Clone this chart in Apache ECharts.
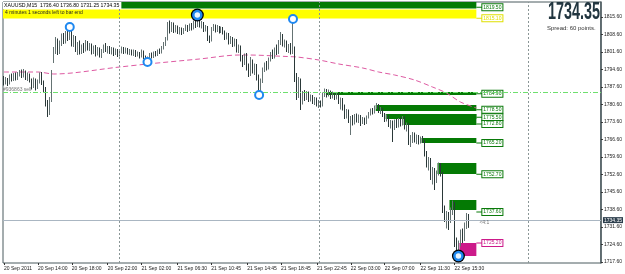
<!DOCTYPE html>
<html><head><meta charset="utf-8">
<script src="https://cdn.jsdelivr.net/npm/echarts@6/dist/echarts.min.js"></script>
<style>html,body{margin:0;padding:0;background:#fff}#c{width:625px;height:274px}</style>
</head><body><div id="c"></div>
<script>
const symbolInfo = 'XAUUSD,M15  1736.40 1736.80 1731.25 1734.35';
const timerText = '4 minutes 1 seconds left to bar end';
const bidPrice = 1734.35;
const spreadText = 'Spread: 60 points.';
const orderLevel = 1785.5;
const orderLabel = '#936863 sell';
const candleTimer = '<4:1';
const separators = [58, 158, 263];
const tickIdx = [0, 17, 34, 52, 69, 87, 104, 122, 139, 157, 174, 191, 209, 226];
const tickLabels = ['20 Sep 2011','20 Sep 14:00','20 Sep 18:00','20 Sep 22:00','21 Sep 02:00','21 Sep 06:30','21 Sep 10:45','21 Sep 14:45','21 Sep 18:45','21 Sep 22:45','22 Sep 03:00','22 Sep 07:00','22 Sep 11:30','22 Sep 15:30'];
const priceTicks = [1717.6,1724.6,1731.6,1738.6,1745.6,1752.6,1759.6,1766.6,1773.6,1780.6,1787.6,1794.6,1801.6,1808.6,1815.6];
// [open, close, low, high]
const ohlc = [
[1791.0,1789.5,1788.2,1792.0],[1789.5,1790.8,1788.6,1791.6],[1790.8,1789.0,1788.0,1791.2],[1789.0,1791.8,1788.6,1792.6],
[1791.8,1790.6,1789.8,1793.0],[1790.6,1792.4,1790.0,1793.2],[1792.4,1791.0,1790.2,1793.4],[1791.0,1792.8,1790.4,1793.6],
[1792.8,1793.6,1791.8,1794.4],[1793.6,1792.0,1791.2,1794.6],[1792.0,1793.8,1791.4,1794.8],[1793.8,1791.2,1790.4,1794.2],
[1791.2,1792.6,1790.0,1793.4],[1792.6,1790.2,1789.4,1793.0],[1790.2,1788.0,1786.6,1791.0],[1788.0,1790.4,1787.2,1791.4],
[1790.4,1787.4,1786.2,1791.0],[1787.4,1789.8,1786.8,1790.6],[1789.8,1792.6,1789.0,1793.4],[1792.6,1789.2,1788.4,1793.6],
[1789.2,1786.8,1785.6,1790.2],[1786.8,1781.0,1779.8,1787.6],[1781.0,1777.4,1775.6,1782.4],[1777.4,1782.2,1776.4,1783.6],
[1782.2,1792.6,1781.6,1794.4],[1797.6,1802.4,1797.2,1803.6],[1802.4,1806.0,1800.8,1807.6],[1806.0,1801.8,1800.4,1807.0],
[1801.8,1805.0,1800.8,1806.2],[1805.0,1808.2,1804.0,1809.0],[1808.2,1805.6,1804.8,1809.2],[1805.6,1808.8,1805.0,1810.0],
[1808.8,1807.0,1806.0,1810.4],[1807.0,1810.2,1806.4,1811.6],[1810.2,1805.0,1803.8,1810.8],[1805.0,1807.4,1803.6,1808.4],
[1807.4,1802.6,1801.6,1808.0],[1802.6,1804.8,1800.4,1805.6],[1804.8,1801.4,1800.6,1806.2],[1801.4,1803.8,1800.8,1804.6],
[1803.8,1802.2,1801.2,1805.2],[1802.2,1805.4,1801.8,1806.4],[1805.4,1803.0,1802.2,1806.0],[1803.0,1804.4,1802.0,1805.2],
[1804.4,1801.8,1800.6,1805.0],[1801.8,1803.6,1800.8,1804.2],[1803.6,1801.0,1799.8,1804.4],[1801.0,1802.8,1800.2,1803.6],
[1802.8,1800.4,1799.4,1803.4],[1800.4,1802.0,1799.2,1802.8],[1802.0,1803.8,1801.2,1804.6],[1803.8,1802.4,1801.6,1805.2],
[1802.4,1803.2,1801.0,1804.0],[1803.2,1801.6,1800.8,1804.0],[1801.6,1802.8,1800.6,1803.6],[1802.8,1801.2,1800.0,1803.4],
[1801.2,1802.2,1800.4,1803.0],[1802.2,1800.6,1799.6,1802.8],[1800.6,1801.8,1799.8,1802.6],[1801.8,1803.0,1801.0,1803.8],
[1803.0,1801.6,1800.8,1803.6],[1801.6,1802.8,1801.0,1803.4],[1802.8,1801.4,1800.6,1803.2],[1801.4,1802.2,1800.4,1802.8],
[1802.2,1801.0,1800.2,1802.6],[1801.0,1801.8,1800.0,1802.6],[1801.8,1800.4,1799.6,1802.4],[1800.4,1801.2,1799.8,1801.8],
[1801.2,1799.8,1799.0,1801.6],[1799.8,1801.4,1799.4,1802.6],[1801.4,1799.6,1798.8,1802.2],[1799.6,1798.6,1797.8,1800.2],
[1798.6,1799.0,1797.6,1799.8],[1799.0,1800.6,1798.4,1801.2],[1800.6,1799.6,1799.0,1801.4],[1799.6,1801.2,1799.2,1801.8],
[1801.2,1800.4,1799.8,1802.0],[1800.4,1802.0,1800.0,1802.6],[1802.0,1801.4,1800.8,1803.0],[1801.4,1803.2,1801.0,1804.0],
[1803.2,1804.6,1802.6,1805.6],[1804.6,1806.8,1804.0,1807.6],[1806.8,1812.6,1806.2,1813.6],[1812.6,1810.4,1809.0,1814.2],
[1810.4,1812.8,1809.6,1813.6],[1812.8,1810.0,1809.2,1813.4],[1810.0,1811.8,1809.4,1812.4],[1811.8,1809.6,1808.8,1812.2],
[1809.6,1810.8,1808.6,1811.6],[1810.8,1809.2,1808.4,1811.4],[1809.2,1810.6,1808.8,1811.2],[1810.6,1811.8,1810.0,1812.6],
[1811.8,1810.4,1809.6,1812.4],[1810.4,1812.2,1810.0,1813.0],[1812.2,1811.0,1810.2,1813.2],[1811.0,1813.4,1810.6,1814.2],
[1813.4,1812.0,1811.2,1815.0],[1812.0,1814.6,1811.6,1816.4],[1814.6,1812.4,1811.4,1815.2],[1812.4,1813.0,1811.0,1814.0],
[1813.0,1810.4,1809.6,1813.6],[1810.4,1811.6,1809.8,1812.4],[1811.6,1807.0,1806.0,1812.0],[1807.0,1806.2,1805.2,1808.2],
[1806.2,1810.8,1805.8,1811.6],[1810.8,1812.2,1810.0,1812.8],[1812.2,1810.2,1809.4,1812.6],[1810.2,1811.6,1809.6,1812.4],
[1811.6,1809.8,1809.0,1812.0],[1809.8,1811.2,1809.2,1811.8],[1811.2,1809.4,1808.6,1811.6],[1809.4,1807.2,1806.4,1810.2],
[1807.2,1808.6,1806.6,1809.4],[1808.6,1805.4,1804.6,1809.2],[1805.4,1807.0,1804.8,1808.0],[1807.0,1804.4,1803.6,1807.6],
[1804.4,1806.2,1803.8,1807.0],[1806.2,1802.8,1801.4,1806.8],[1802.8,1803.8,1801.2,1804.6],[1803.8,1799.0,1797.8,1804.2],
[1799.0,1797.2,1795.6,1800.4],[1797.2,1800.2,1796.4,1801.0],[1800.2,1795.4,1794.2,1801.2],[1795.4,1792.8,1791.6,1797.0],
[1792.8,1797.8,1792.0,1799.6],[1797.8,1794.0,1793.0,1798.6],[1794.0,1796.2,1792.4,1797.0],[1796.2,1791.2,1790.2,1796.8],
[1791.2,1786.4,1784.4,1792.6],[1786.4,1789.8,1785.8,1791.0],[1789.8,1794.6,1789.2,1795.4],[1794.6,1796.4,1793.6,1797.4],
[1796.4,1795.0,1794.2,1798.0],[1795.0,1798.6,1794.6,1799.4],[1798.6,1800.8,1797.8,1801.6],[1800.8,1799.6,1798.8,1802.6],
[1799.6,1802.4,1799.0,1803.4],[1802.4,1801.2,1800.4,1804.6],[1801.2,1805.2,1800.8,1806.4],[1805.2,1807.8,1804.4,1809.6],
[1807.8,1804.6,1803.8,1808.8],[1804.6,1805.8,1803.4,1806.6],[1805.8,1802.4,1801.6,1806.2],[1802.4,1804.0,1801.2,1804.8],
[1804.0,1801.8,1800.6,1805.2],[1801.8,1803.4,1800.8,1814.8],[1803.4,1791.0,1789.6,1803.8],[1791.0,1784.6,1782.4,1793.2],
[1784.6,1789.8,1783.2,1791.6],[1789.8,1781.2,1778.4,1791.0],[1781.2,1784.8,1780.6,1786.0],[1784.8,1783.0,1782.0,1786.4],
[1783.0,1785.2,1782.4,1786.0],[1785.2,1782.6,1781.6,1785.8],[1782.6,1783.8,1781.8,1784.6],[1783.8,1781.6,1780.8,1784.4],
[1781.6,1782.8,1780.4,1783.6],[1782.8,1780.6,1779.8,1783.4],[1780.6,1781.8,1779.2,1782.4],[1781.8,1780.2,1779.4,1782.2],
[1780.2,1784.6,1779.8,1785.4],[1784.6,1786.0,1783.6,1787.0],[1786.0,1784.4,1783.4,1786.8],[1784.4,1785.6,1783.8,1786.6],
[1785.6,1783.6,1782.8,1786.2],[1783.6,1785.0,1783.0,1785.8],[1785.0,1783.2,1782.4,1785.6],[1783.2,1784.8,1782.6,1785.6],
[1784.8,1781.6,1780.8,1785.4],[1781.6,1782.8,1778.6,1783.4],[1782.8,1779.4,1778.2,1783.2],[1779.4,1776.0,1774.8,1780.6],
[1776.0,1777.8,1775.0,1778.8],[1777.8,1774.4,1773.2,1778.6],[1774.4,1775.2,1768.4,1776.0],[1775.2,1773.0,1772.2,1776.4],
[1773.0,1776.0,1772.6,1776.8],[1776.0,1774.2,1773.4,1777.0],[1774.2,1775.8,1773.2,1776.6],[1775.8,1773.6,1772.0,1776.4],
[1773.6,1774.8,1772.8,1775.6],[1774.8,1773.2,1772.4,1775.4],[1773.2,1775.6,1772.8,1776.2],[1775.6,1776.8,1775.0,1777.6],
[1776.8,1778.2,1776.2,1779.0],[1778.2,1777.4,1776.6,1779.2],[1777.4,1779.6,1777.0,1780.2],[1779.6,1780.4,1778.8,1781.2],
[1780.4,1778.0,1777.2,1780.8],[1778.0,1778.8,1776.8,1779.6],[1778.8,1776.4,1775.6,1779.2],[1776.4,1774.6,1773.6,1777.2],
[1774.6,1775.8,1773.8,1776.6],[1775.8,1772.4,1771.6,1776.2],[1772.4,1773.6,1771.0,1774.4],[1773.6,1771.0,1765.6,1774.2],
[1771.0,1773.8,1770.4,1774.6],[1773.8,1772.0,1771.2,1774.8],[1772.0,1774.4,1771.4,1775.2],[1774.4,1772.8,1771.8,1775.6],
[1772.8,1775.2,1772.2,1776.0],[1775.2,1771.4,1770.6,1775.8],[1771.4,1772.6,1769.8,1773.4],[1772.6,1765.8,1764.4,1773.2],
[1765.8,1767.0,1763.6,1768.4],[1767.0,1768.8,1765.2,1769.6],[1768.8,1766.4,1765.4,1769.4],[1766.4,1767.8,1764.8,1768.6],
[1767.8,1765.6,1764.6,1768.4],[1765.6,1767.4,1765.0,1767.8],[1767.4,1766.0,1765.2,1768.0],[1766.0,1760.8,1759.8,1766.6],
[1760.8,1756.8,1755.4,1762.0],[1756.8,1758.6,1754.2,1759.6],[1758.6,1752.4,1750.4,1759.2],[1752.4,1754.6,1748.6,1755.6],
[1754.6,1750.2,1746.4,1755.2],[1750.2,1753.4,1749.2,1754.2],[1753.4,1756.8,1752.2,1757.4],[1756.8,1753.0,1751.8,1757.2],
[1753.0,1739.0,1737.2,1753.6],[1739.0,1735.2,1733.6,1740.2],[1735.2,1736.8,1731.0,1738.0],[1736.8,1734.0,1730.4,1737.6],
[1734.0,1738.6,1733.2,1739.4],[1738.6,1740.8,1736.4,1742.2],[1740.8,1725.0,1723.6,1741.6],[1725.0,1721.6,1720.6,1727.4],
[1721.6,1724.8,1720.0,1726.2],[1724.8,1728.4,1723.8,1730.6],[1728.4,1726.6,1725.2,1731.0],[1726.6,1731.8,1726.0,1733.4],
[1731.8,1736.4,1730.8,1737.2],[1736.4,1734.35,1731.25,1736.8]
];
const maIdx = [0, 17, 25, 58, 72, 98, 118, 122, 142, 147, 158, 168, 180, 188, 196, 206, 215, 222, 229, 237];
const maVal = [1793.6, 1793.6, 1792.8, 1795.6, 1796.8, 1798.8, 1800.4, 1800.4, 1799.8, 1799.6, 1798.4, 1796.8, 1795.2, 1793.6, 1792.4, 1790.4, 1787.6, 1785.2, 1781.6, 1779.2];
const pivotIdx = [33, 72, 128, 145];
const pivotVal = [1811.6, 1797.6, 1784.4, 1814.8];
const bigPivotIdx = [97, 228];
const bigPivotVal = [1816.4, 1720.0];
const zoneStart = [0, 0, 162, 187, 192, 201, 210, 218, 224, 229];
const zoneEnd   = [237, 237, 237, 237, 237, 237, 237, 237, 237, 237];
const zoneHigh  = [1821.6, 1818.6, 1785.6, 1780.4, 1776.8, 1776.8, 1767.2, 1757.2, 1742.4, 1725.2];
const zoneLow   = [1819.0, 1815.0, 1784.4, 1778.0, 1774.8, 1772.4, 1765.2, 1752.8, 1738.4, 1720.0];
const zoneLabel = ['1819.50', '1815.10', '1784.90', '1778.50', '1775.50', '1772.80', '1765.20', '1752.70', '1737.60', '1725.20'];
const zoneKind  = ['supply', 'yellow', 'supply', 'supply', 'supply', 'supply', 'supply', 'supply', 'supply', 'demand'];

const zoneColors = {supply: '#047a04', yellow: '#ffff00', demand: '#cc1a8a'};
const zoneTextColors = {supply: '#0a7a0a', yellow: '#e0e000', demand: '#cc1a8a'};
const FONT = 'Liberation Sans';
const categories = Array.from({length: 300}, (_, i) => String(i));
const showTick = (idx) => tickIdx.indexOf(idx) >= 0;

const chart = echarts.init(document.getElementById('c'), null, {renderer: 'canvas'});

function renderZone(params, api) {
  const k = params.dataIndex;
  const p0 = api.coord([api.value(0), api.value(2)]);
  const p1 = api.coord([api.value(1), api.value(3)]);
  const bw = api.size([1, 0])[0];
  const x0 = p0[0] - bw / 2, x1 = p1[0];
  const col = zoneColors[zoneKind[k]];
  const tcol = zoneTextColors[zoneKind[k]];
  const ly = api.coord([0, api.value(4)])[1];
  const lx = api.coord([api.value(1) + 3, 0])[0];
  return {type: 'group', children: [
    {type: 'rect', shape: {x: x0, y: p0[1], width: x1 - x0, height: p1[1] - p0[1]}, style: {fill: col}},
    {type: 'line', shape: {x1: x1, y1: ly, x2: lx, y2: ly}, style: {stroke: tcol, lineWidth: 1}},
    {type: 'text', x: lx, y: ly, style: {text: zoneLabel[k], fontSize: 5, fontFamily: FONT, fill: tcol,
      backgroundColor: '#fff', borderColor: tcol, borderWidth: 1, padding: [1, 1, 0, 1],
      verticalAlign: 'middle', align: 'left'}}
  ]};
}

const option = {
  animation: false,
  backgroundColor: '#fff',
  grid: {left: 3, right: 22, top: 2, bottom: 11, show: true, borderColor: '#4b5a5e', borderWidth: 1},
  xAxis: {
    type: 'category', data: categories, boundaryGap: true,
    axisLine: {show: false},
    axisTick: {show: true, alignWithLabel: true, interval: showTick, length: 2, lineStyle: {color: '#333'}},
    axisLabel: {interval: showTick, formatter: (v, i) => tickLabels[tickIdx.indexOf(i)], fontSize: 5,
      fontFamily: FONT, color: '#222', align: 'left', margin: 3},
    splitLine: {show: false}
  },
  yAxis: {
    type: 'value', position: 'right', min: 1717.2, max: 1821.6,
    splitLine: {show: false},
    axisLine: {show: true, lineStyle: {color: '#4b5a5e', width: 1.5}},
    axisTick: {show: true, length: 2, customValues: priceTicks, lineStyle: {color: '#333'}},
    axisLabel: {customValues: priceTicks, formatter: v => v.toFixed(2), fontSize: 5, fontFamily: FONT, color: '#222', margin: 3}
  },
  series: [
    {
      type: 'custom', name: 'zones', z: 1, clip: false,
      encode: {x: [0, 1], y: [2, 3, 4]},
      data: zoneStart.map((s, k) => [s, zoneEnd[k], zoneHigh[k], zoneLow[k], parseFloat(zoneLabel[k])]),
      renderItem: renderZone
    },
    {
      type: 'line', name: 'MA', z: 2, smooth: 0.3, symbol: 'none',
      data: maIdx.map((i, k) => [i, maVal[k]]),
      lineStyle: {color: '#de5aa2', width: 1, type: [5, 3]}
    },
    {
      type: 'candlestick', name: 'XAUUSD', z: 3, barWidth: 1.2,
      data: ohlc,
      itemStyle: {color: '#9aa7a7', color0: '#2a3838', borderColor: '#657373', borderColor0: '#2a3838', borderWidth: 1},
      markLine: {
        silent: true, symbol: 'none', animation: false,
        data: [
          {yAxis: bidPrice, lineStyle: {color: '#aab6c2', type: 'solid', width: 1},
            label: {show: true, position: 'end', distance: 2, formatter: bidPrice.toFixed(2), fontSize: 5, fontFamily: FONT,
              color: '#fff', backgroundColor: '#2c3e4c', padding: [1, 1, 0, 1]}},
          {yAxis: orderLevel, lineStyle: {color: '#6ee06e', type: [5, 2, 1, 2], width: 1},
            label: {show: true, position: 'insideStartTop', distance: 0, formatter: orderLabel, fontSize: 5, fontFamily: FONT, color: '#777'}},
          ...separators.map(s => ({xAxis: s, lineStyle: {color: '#8a9696', type: [2, 2], width: 1}, label: {show: false}}))
        ]
      }
    },
    {
      type: 'scatter', name: 'pivots', z: 5, symbol: 'circle', symbolSize: 8,
      data: pivotIdx.map((i, k) => [i, pivotVal[k]]),
      itemStyle: {color: '#fff', borderColor: '#1e88f0', borderWidth: 2, opacity: 1}
    },
    {
      type: 'scatter', name: 'bigPivotsOuter', z: 5, symbol: 'circle', symbolSize: 13,
      data: bigPivotIdx.map((i, k) => [i, bigPivotVal[k]]),
      itemStyle: {color: '#000', opacity: 1}
    },
    {
      type: 'scatter', name: 'bigPivotsInner', z: 6, symbol: 'circle', symbolSize: 8,
      data: bigPivotIdx.map((i, k) => [i, bigPivotVal[k]]),
      itemStyle: {color: '#e8f4ff', borderColor: '#1e88f0', borderWidth: 2.5, opacity: 1}
    },
    {
      type: 'scatter', name: 'timer', z: 6, symbolSize: 0,
      data: [[241, 1733.4]],
      label: {show: true, position: 'inside', formatter: candleTimer, fontSize: 5, fontFamily: FONT, color: '#555'}
    }
  ],
  graphic: [
    {type: 'text', left: 3, top: 2, z: 100, style: {text: symbolInfo, fontSize: 5.2, fontFamily: FONT, fill: '#000', backgroundColor: '#fff', padding: [1, 2, 1, 1]}},
    {type: 'text', left: 5, top: 10, z: 100, style: {text: timerText, fontSize: 5, fontFamily: FONT, fill: '#222'}},
    {type: 'text', x: 548, y: 0, scaleX: 0.6, z: 100, style: {text: bidPrice.toFixed(2), fontSize: 24, fontWeight: 'bold', fontFamily: 'Liberation Sans, Arial, sans-serif', fill: '#223640'}},
    {type: 'text', x: 547, y: 25, z: 100, style: {text: spreadText, fontSize: 6, fontFamily: FONT, fill: '#333'}}
  ]
};
chart.setOption(option);
</script>
</body></html>
